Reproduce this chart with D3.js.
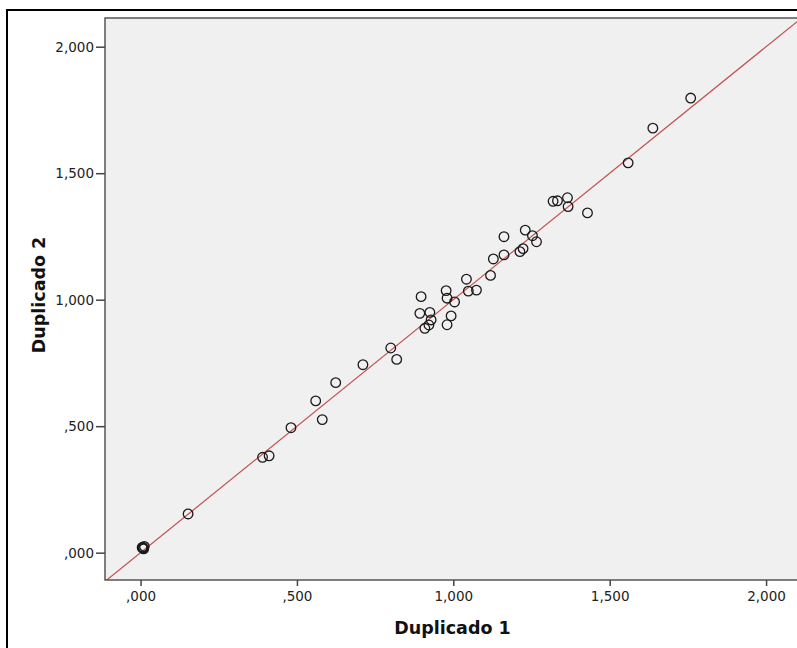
<!DOCTYPE html>
<html>
<head>
<meta charset="utf-8">
<script src="https://cdn.jsdelivr.net/npm/d3@7"></script>
<style>
  body { margin: 0; background: #fff; }
  text { font-family: "DejaVu Sans", sans-serif; }
</style>
</head>
<body>
<div id="graph"></div>
<script>
// values
var dup1 = [0.005, 0.010, 0.012, 0.008, 0.007, 0.152, 0.390, 0.411, 0.481, 0.560, 0.581,
  0.624, 0.711, 0.800, 0.819, 0.897, 0.893, 0.925, 0.929, 0.922, 0.909,
  0.977, 0.980, 1.004, 0.993, 0.980, 1.042, 1.048, 1.074, 1.119, 1.128,
  1.162, 1.162, 1.213, 1.223, 1.230, 1.253, 1.266, 1.319, 1.333, 1.365,
  1.367, 1.429, 1.559, 1.638, 1.759];
var dup2 = [0.020, 0.015, 0.025, 0.018, 0.022, 0.153, 0.377, 0.383, 0.494, 0.600, 0.526,
  0.672, 0.743, 0.809, 0.764, 1.012, 0.946, 0.950, 0.920, 0.900, 0.887,
  1.036, 1.006, 0.991, 0.936, 0.901, 1.081, 1.034, 1.038, 1.096, 1.161,
  1.249, 1.177, 1.190, 1.202, 1.275, 1.253, 1.229, 1.389, 1.391, 1.403,
  1.368, 1.343, 1.541, 1.678, 1.797];
var tickValues = [0, 0.5, 1, 1.5, 2];
var tickLabels = [",000", ",500", "1,000", "1,500", "2,000"];
var xTitle = "Duplicado 1";
var yTitle = "Duplicado 2";

var width = 797, height = 648;
var plotL = 105, plotT = 18, plotR = 800, plotB = 580;

var svg = d3.select("#graph")
  .append("svg")
  .attr("width", width)
  .attr("height", height);

// outer frame
svg.append("rect")
  .attr("x", 7).attr("y", 10)
  .attr("width", 820).attr("height", 660)
  .attr("fill", "#fff")
  .attr("stroke", "#000")
  .attr("stroke-width", 2);

var x = d3.scaleLinear().domain([-0.1137, 2.1085]).range([plotL, plotR]);
var y = d3.scaleLinear().domain([-0.108, 2.1135]).range([plotB, plotT]);

// plot background
svg.append("rect")
  .attr("x", plotL).attr("y", plotT)
  .attr("width", plotR - plotL).attr("height", plotB - plotT)
  .attr("fill", "#f0f0f0");

svg.append("clipPath").attr("id", "clip")
  .append("rect")
  .attr("x", plotL).attr("y", plotT)
  .attr("width", plotR - plotL).attr("height", plotB - plotT);

var plot = svg.append("g").attr("clip-path", "url(#clip)");

// reference line y = x
plot.append("line")
  .attr("x1", x(-0.2)).attr("y1", y(-0.2))
  .attr("x2", x(2.3)).attr("y2", y(2.3))
  .attr("stroke", "#c4504c")
  .attr("stroke-width", 1.2);

plot.selectAll("circle")
  .data(d3.range(dup1.length))
  .enter().append("circle")
  .attr("cx", function(i) { return x(dup1[i]); })
  .attr("cy", function(i) { return y(dup2[i]); })
  .attr("r", 4.8)
  .attr("fill", "none")
  .attr("stroke", "#1a1a1a")
  .attr("stroke-width", 1.3);

// plot border
svg.append("rect")
  .attr("x", plotL).attr("y", plotT)
  .attr("width", plotR - plotL).attr("height", plotB - plotT)
  .attr("fill", "none")
  .attr("stroke", "#555")
  .attr("stroke-width", 1.5);

// axes
var xAxis = svg.append("g")
  .attr("transform", "translate(0," + plotB + ")")
  .call(d3.axisBottom(x).tickValues(tickValues)
    .tickFormat(function(d, i) { return tickLabels[i]; })
    .tickSize(6).tickPadding(5));
var yAxis = svg.append("g")
  .attr("transform", "translate(" + plotL + ",0)")
  .call(d3.axisLeft(y).tickValues(tickValues)
    .tickFormat(function(d, i) { return tickLabels[i]; })
    .tickSize(9).tickPadding(2));

[xAxis, yAxis].forEach(function(a) {
  a.select(".domain").remove();
  a.selectAll(".tick line").attr("stroke", "#444").attr("stroke-width", 1.5);
  a.selectAll(".tick text")
    .attr("fill", "#222")
    .style("font-size", "13.5px")
    .style("font-family", "'DejaVu Sans', sans-serif");
});

svg.append("text")
  .attr("x", (plotL + plotR) / 2)
  .attr("y", 634)
  .attr("text-anchor", "middle")
  .style("font-size", "17.5px")
  .style("font-weight", "bold")
  .attr("fill", "#111")
  .text(xTitle);

svg.append("text")
  .attr("transform", "translate(45,295) rotate(-90)")
  .attr("text-anchor", "middle")
  .style("font-size", "17.5px")
  .style("font-weight", "bold")
  .attr("fill", "#111")
  .text(yTitle);
</script>
</body>
</html>
